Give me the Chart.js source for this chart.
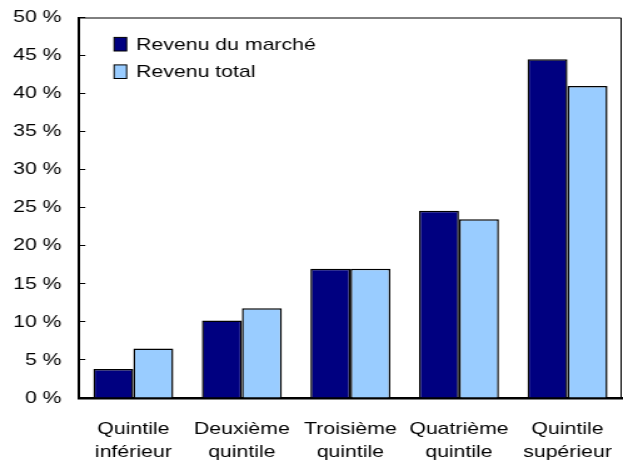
<!DOCTYPE html>
<html lang="fr">
<head>
<meta charset="utf-8">
<script src="https://cdn.jsdelivr.net/npm/chart.js@4"></script>
<style>
  html, body { margin: 0; padding: 0; background: #fff; overflow: hidden; }
  /* le graphique d'origine est étiré horizontalement */
  #cadre { width: 498px; height: 468px; transform: scaleX(1.251); transform-origin: 0 0; }
</style>
</head>
<body>
<div id="cadre"><canvas id="graphique"></canvas></div>
<script>
// Catégories (quintiles)
const categories = [
  ['Quintile', 'inférieur'],
  ['Deuxième', 'quintile'],
  ['Troisième', 'quintile'],
  ['Quatrième', 'quintile'],
  ['Quintile', 'supérieur']
];

// Parts du revenu (%)
const revenuMarche = [3.8, 10.2, 17.0, 24.6, 44.5];
const revenuTotal = [6.5, 11.8, 17.0, 23.5, 41.0];

// Axe vertical
const yMin = 0;
const yMax = 50;
const yPas = 5;

const police = "Arial, 'Liberation Sans', sans-serif";

// Légende dessinée à l'intérieur de la zone du graphique
const legendeInterne = {
  id: 'legendeInterne',
  afterDraw(chart) {
    const ctx = chart.ctx;
    const zone = chart.chartArea;
    ctx.save();
    chart.data.datasets.forEach((ds, i) => {
      const y = zone.top + 26.7 + i * 27.5;
      const x = zone.left + 28;
      ctx.fillStyle = ds.backgroundColor;
      ctx.fillRect(x, y - 6.8, 10, 13.6);
      ctx.strokeStyle = '#000';
      ctx.lineWidth = 1;
      ctx.strokeRect(x, y - 6.8, 10, 13.6);
      ctx.fillStyle = '#000';
      ctx.font = '17px ' + police;
      ctx.textBaseline = 'middle';
      ctx.fillText(ds.label, x + 17.6, y + 1);
    });
    ctx.restore();
  }
};

// Cadre haut et droit
const bordure = {
  id: 'bordure',
  afterDatasetsDraw(chart) {
    const ctx = chart.ctx;
    const z = chart.chartArea;
    ctx.save();
    ctx.strokeStyle = '#000';
    ctx.lineWidth = 1;
    ctx.beginPath();
    ctx.moveTo(z.left, z.top + 0.5);
    ctx.lineTo(z.right - 0.5, z.top + 0.5);
    ctx.lineTo(z.right - 0.5, z.bottom);
    ctx.stroke();
    ctx.restore();
  }
};

new Chart(document.getElementById('graphique'), {
  type: 'bar',
  data: {
    labels: categories,
    datasets: [
      {
        label: 'Revenu du marché',
        data: revenuMarche,
        backgroundColor: '#000080',
        borderColor: '#000',
        borderWidth: 1.5,
        categoryPercentage: 0.737,
        barPercentage: 1
      },
      {
        label: 'Revenu total',
        data: revenuTotal,
        backgroundColor: '#99CCFF',
        borderColor: '#000',
        borderWidth: 1.5,
        categoryPercentage: 0.737,
        barPercentage: 1
      }
    ]
  },
  options: {
    responsive: true,
    maintainAspectRatio: false,
    animation: false,
    layout: { padding: { top: 17.5, right: 1, bottom: 6, left: 10 } },
    scales: {
      x: {
        grid: { display: false },
        border: { display: true, color: '#000', width: 2.5 },
        ticks: {
          color: '#000',
          padding: 12,
          maxRotation: 0,
          autoSkip: false,
          font: { family: police, size: 17, lineHeight: 1.35 }
        },
        afterFit(scale) {
          scale.height = 64;
          scale.paddingLeft = 0;
          scale.paddingRight = 0;
        }
      },
      y: {
        min: yMin,
        max: yMax,
        grid: {
          display: true,
          drawOnChartArea: false,
          drawTicks: true,
          tickLength: -5,
          color: '#000',
          lineWidth: 1
        },
        border: { display: true, color: '#000', width: 2 },
        ticks: {
          stepSize: yPas,
          color: '#000',
          padding: 19,
          font: { family: police, size: 17 },
          callback: v => v + ' %'
        },
        afterFit(scale) {
          scale.width = 53.2;
          scale.paddingTop = 0;
          scale.paddingBottom = 0;
        }
      }
    },
    plugins: {
      legend: { display: false },
      tooltip: { enabled: false }
    }
  },
  plugins: [legendeInterne, bordure]
});
</script>
</body>
</html>
